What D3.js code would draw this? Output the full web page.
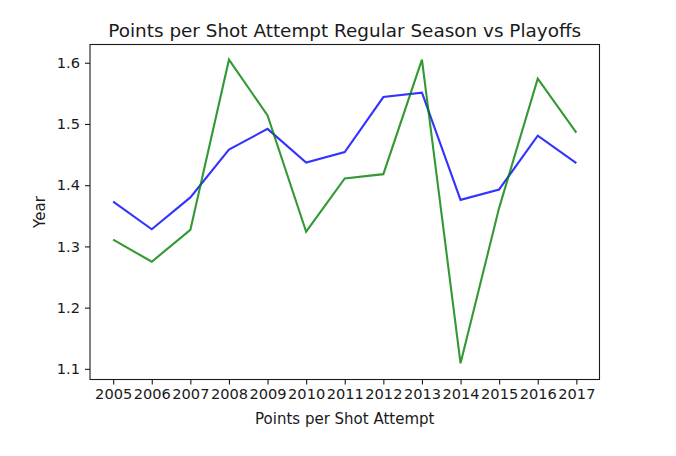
<!DOCTYPE html>
<html><head><meta charset="utf-8">
<script src="https://cdn.jsdelivr.net/npm/d3@7"></script>
<style>body{margin:0;background:#fff}svg{display:block}text{font-family:"DejaVu Sans",sans-serif;fill:#1a1a1a}</style>
</head><body>
<svg id="c" width="676" height="456"></svg>
<script>
const years = [2005,2006,2007,2008,2009,2010,2011,2012,2013,2014,2015,2016,2017];
const regularSeason = [1.373,1.328,1.380,1.458,1.492,1.437,1.454,1.544,1.551,1.376,1.393,1.481,1.436];
const playoffs = [1.311,1.275,1.327,1.605,1.514,1.324,1.411,1.418,1.605,1.109,1.363,1.574,1.486];
const yTicks = [1.1,1.2,1.3,1.4,1.5,1.6];

const svg = d3.select("#c");
const L = 90, R = 599.5, T = 44.5, B = 379.5;
const x = d3.scaleLinear().domain([2004.4, 2017.6]).range([L, R]);
const y = d3.scaleLinear().domain([1.0826, 1.6298]).range([B, T]);

const line = d3.line().x((d,i)=>x(years[i])).y(d=>y(d));
svg.append("path").datum(regularSeason).attr("d", line)
  .attr("fill","none").attr("stroke","#0000ff").attr("stroke-opacity",0.8).attr("stroke-width",2.1);
svg.append("path").datum(playoffs).attr("d", line)
  .attr("fill","none").attr("stroke","#008000").attr("stroke-opacity",0.8).attr("stroke-width",2.1);

const xAxis = d3.axisBottom(x).tickValues(years).tickFormat(d3.format("d")).tickSize(5).tickPadding(4);
const gx = svg.append("g").attr("transform",`translate(0,${B})`).call(xAxis);
gx.select(".domain").remove();
gx.selectAll("text").attr("font-size",14.6).style("font-family","DejaVu Sans").attr("fill","#1a1a1a");
gx.selectAll("line").attr("stroke","#1a1a1a").attr("stroke-width",1.1);

const yAxis = d3.axisLeft(y).tickValues(yTicks).tickFormat(d3.format(".1f")).tickSize(5).tickPadding(5);
const gy = svg.append("g").attr("transform",`translate(${L},0)`).call(yAxis);
gy.select(".domain").remove();
gy.selectAll("text").attr("font-size",14.6).style("font-family","DejaVu Sans").attr("fill","#1a1a1a");
gy.selectAll("line").attr("stroke","#1a1a1a").attr("stroke-width",1.1);

svg.append("rect").attr("x",L).attr("y",T).attr("width",R-L).attr("height",B-T)
  .attr("fill","none").attr("stroke","#1a1a1a").attr("stroke-width",1.1);

svg.append("text").attr("x",(L+R)/2).attr("y",37).attr("text-anchor","middle")
  .attr("font-size",18.4).text("Points per Shot Attempt Regular Season vs Playoffs");
svg.append("text").attr("x",(L+R)/2).attr("y",423.5).attr("text-anchor","middle")
  .attr("font-size",15).text("Points per Shot Attempt");
svg.append("text").attr("transform",`translate(44.5,${(T+B)/2}) rotate(-90)`).attr("text-anchor","middle")
  .attr("font-size",15).text("Year");
</script>
</body></html>
